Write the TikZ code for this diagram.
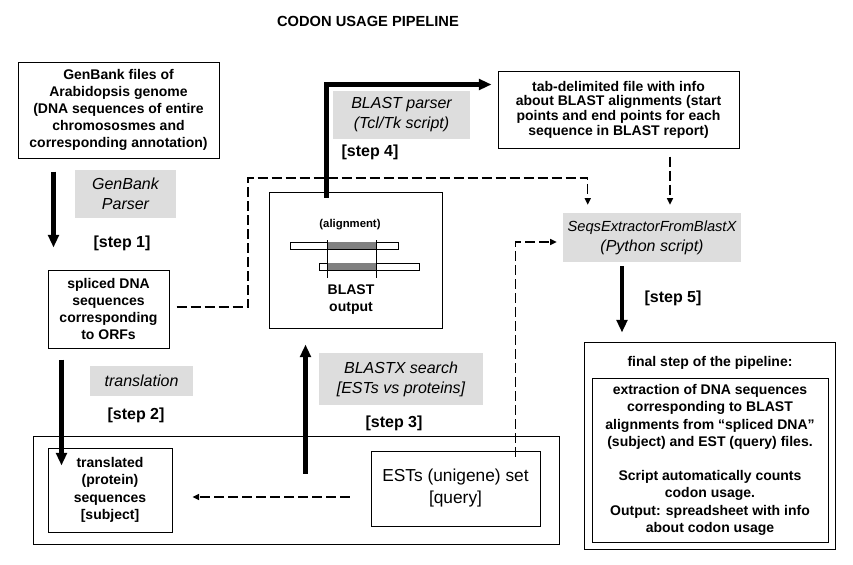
\documentclass[tikz,border=0pt]{standalone}
\usepackage{fontspec}
\setmainfont{Liberation Sans}
\usepackage{xcolor}
\usepackage{tikz}
\usetikzlibrary{calc}
\usetikzlibrary{arrows, arrows.meta}

\definecolor{boxgray}{HTML}{DDDDDD}
\definecolor{bargray}{HTML}{808080}

\tikzset{
	filebox/.style={draw, line width=0.75pt, fill=white, align=center, inner sep=1pt,
		font=\bfseries\fontsize{10.5}{12.75}\selectfont},
	toolbox/.style={fill=boxgray, align=center, inner sep=1pt,
		font=\itshape\fontsize{12}{15}\selectfont},
	steplabel/.style={font=\bfseries\fontsize{12}{14}\selectfont},
	bigarrow/.style={line width=3.3pt, black, -{Triangle[length=9.5pt, width=8pt]}},
	dasharrow/.style={line width=1.1pt, black, dash pattern=on 7.5pt off 3pt,
		-{Triangle[length=5pt, width=4.5pt]}}
}

\begin{document}
\begin{tikzpicture}[x=0.75pt, y=-0.75pt]

\useasboundingbox (0,0) rectangle (853,564);

\node[font=\bfseries\fontsize{11}{13}\selectfont] (title) at (368,21) {CODON USAGE PIPELINE};

\node[draw, line width=0.75pt, minimum width=394.5pt, minimum height=81pt] (bigbox) at (296,490) {};

\node[filebox, minimum width=150.75pt, minimum height=72pt] (genbank) at (118.5,110)
	{GenBank files of\\Arabidopsis genome\\(DNA sequences of entire\\chromososmes and\\corresponding annotation)};
\node[toolbox, minimum width=75.75pt, minimum height=36pt] (gbparser) at (125.5,194)
	{GenBank\\Parser};
\node[steplabel] (step1) at (122,243) {[step 1]};

\node[filebox, minimum width=90.75pt, minimum height=58.5pt] (spliced) at (108.5,309)
	{spliced DNA\\sequences\\corresponding\\to ORFs};
\node[toolbox, minimum width=77.25pt, minimum height=22.5pt] (translation) at (141.5,381)
	{translation};
\node[steplabel] (step2) at (136,415) {[step 2]};

\node[filebox, minimum width=93pt, minimum height=63pt,
	font=\bfseries\fontsize{10.5}{13}\selectfont] (translated) at (110,490)
	{translated\\(protein)\\sequences\\{[subject]}};
\node[filebox, minimum width=126.75pt, minimum height=56.25pt,
	font=\fontsize{13}{16.5}\selectfont] (ests) at (455.5,488.5)
	{ESTs (unigene) set\\{[query]}};

\node[toolbox, minimum width=123pt, minimum height=39pt] (blastx) at (401,379)
	{BLASTX search\\{[ESTs vs proteins]}};
\node[steplabel] (step3) at (394,423) {[step 3]};

\node[draw, line width=0.75pt, minimum width=129.75pt, minimum height=102pt] (blastout) at (355.5,260) {};
\node[font=\bfseries\fontsize{8.5}{10}\selectfont] (alignlabel) at (350,225) {(alignment)};
\draw [line width=0.75pt, fill=white] (290,242) rectangle (398,249);
\draw [line width=0.75pt, fill=white] (319,263) rectangle (419,270);
\fill [bargray] (327,242.4) rectangle (376,248.6);
\fill [bargray] (327,263.4) rectangle (376,269.6);
\draw [line width=0.75pt] (327,240) -- (327,278);
\draw [line width=0.75pt] (376,240) -- (376,278);
\node[align=center, font=\bfseries\fontsize{10.5}{12.75}\selectfont] (blastlabel) at (351,300)
	{BLAST\\output};

\node[toolbox, minimum width=102.75pt, minimum height=36pt] (bparser) at (401.5,115)
	{BLAST parser\\(Tcl/Tk script)};
\node[steplabel] (step4) at (370,152) {[step 4]};

\node[filebox, minimum width=180.75pt, minimum height=57.75pt,
	font=\bfseries\fontsize{10.5}{11}\selectfont] (tabfile) at (618.5,109.5)
	{tab-delimited file with info\\about BLAST alignments (start\\points and end points for each\\sequence in BLAST report)};

\node[toolbox, minimum width=133.5pt, minimum height=36.75pt] (seqs) at (652,237.5)
	{{\fontsize{11}{15}\selectfont SeqsExtractorFromBlastX}\\(Python script)};
\node[steplabel] (step5) at (673,298) {[step 5]};

\node[draw, line width=0.75pt, minimum width=188.25pt, minimum height=155.25pt] (final) at (709.5,445.5) {};
\node[font=\bfseries\fontsize{10.5}{12.75}\selectfont] (finallabel) at (710,363) {final step of the pipeline:};
\node[filebox, minimum width=177pt, minimum height=123pt,
	font=\bfseries\fontsize{10.5}{13}\selectfont] (finalin) at (710,460)
	{extraction of DNA sequences\\corresponding to BLAST\\alignments from “spliced DNA”\\(subject) and EST (query) files.\\[12.5pt]
	Script automatically counts\\codon usage.\\Output: spreadsheet with info\\about codon usage};

\draw [bigarrow] ($(genbank.south west)+(36,13)$) -- ($(spliced.north west)+(6,-22)$);
\draw [bigarrow] ($(spliced.south west)+(14,11)$) -- ($(translated.north west)+(14,18)$);
\draw [bigarrow] ($(bigbox.north west)+(273,38)$) -- ($(blastout.south west)+(37,16)$);
\draw [line width=3.5pt, black, -{Triangle[length=9.5pt, width=8pt]}]
	($(blastout.north west)+(58,6)$) |- ($(tabfile.north west)+(-6,14)$);
\draw [bigarrow] ($(seqs.south)+(-30,4)$) -- ($(final.north)+(-87.5,-9)$);

\coordinate (dashcorner) at (248,178);
\draw [dasharrow] ($(spliced.east)+(7,-2)$) -| (dashcorner) -| ($(seqs.north west)+(25,-8)$);
\draw [dasharrow] ($(tabfile.south)+(51.5,8)$) -- ($(seqs.north)+(18,-8)$);
\draw [dasharrow] ($(ests.north)+(60,6)$) |- ($(seqs.west)+(-6,4.5)$);
\draw [dasharrow] ($(ests.west)+(-21,8.5)$) -- ($(translated.east)+(20,7)$);

\end{tikzpicture}
\end{document}
